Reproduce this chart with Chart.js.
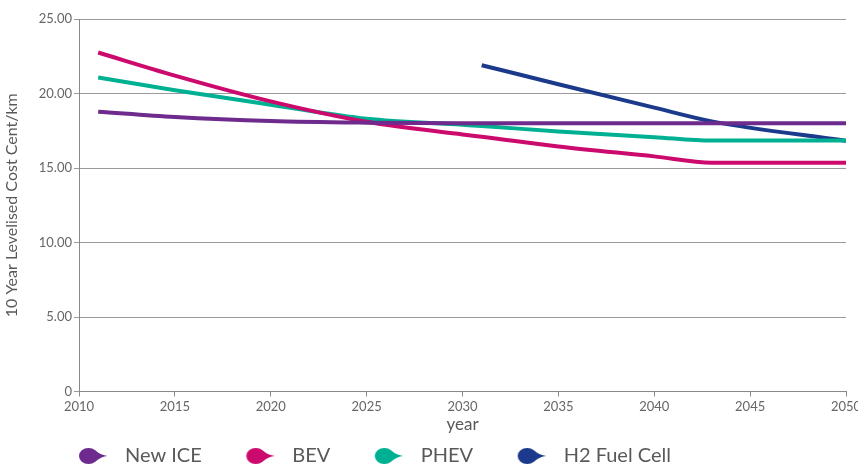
<!DOCTYPE html>
<html>
<head>
<meta charset="utf-8">
<title>10 Year Levelised Cost</title>
<script src="https://cdn.jsdelivr.net/npm/chart.js@4.4.0/dist/chart.umd.min.js"></script>
<style>
    html, body { margin: 0; padding: 0; background: #fff; overflow: hidden; }
    #wrap { position: relative; width: 858px; height: 476px; }
</style>
</head>
<body>
<div id="wrap"><canvas id="costChart"></canvas></div>
<script>
// values
const years = [2011, 2015, 2020, 2025, 2030, 2031, 2035, 2040, 2043, 2050];

const newIce = [18.78, 18.42, 18.15, 18.04, 18.00, 18.00, 18.00, 18.00, 18.00, 18.00];
const bev    = [22.75, 21.20, 19.47, 18.10, 17.25, 17.10, 16.45, 15.78, 15.36, 15.36];
const phev   = [21.08, 20.22, 19.25, 18.30, 17.90, 17.82, 17.45, 17.07, 16.84, 16.84];
const h2     = [null, null, null, null, null, 21.90, 20.62, 19.05, 18.13, 16.82];

const seriesNames  = ['New ICE', 'BEV', 'PHEV', 'H2 Fuel Cell'];
const seriesValues = [newIce, bev, phev, h2];
const seriesColors = ['#6e2a8c', '#cc0a6e', '#00b092', '#1c3a8c'];

const axisTitleY = '10 Year Levelised Cost Cent/km';
const axisTitleX = 'year';

Chart.defaults.font.family = 'Lato, "Open Sans", sans-serif';
Chart.defaults.color = '#666';

// teardrop legend marker, blank space on the left gives the gap between items
function makeMarker(color) {
    const c = document.createElement('canvas');
    c.width = 71;
    c.height = 20;
    const g = c.getContext('2d');
    g.fillStyle = color;
    g.beginPath();
    g.moveTo(63.5, 10);
    g.quadraticCurveTo(57, 10.5, 51, 16);
    g.ellipse(44.5, 10, 9.5, 8, 0, 0.25 * Math.PI, 1.75 * Math.PI);
    g.quadraticCurveTo(57, 9.5, 63.5, 10);
    g.closePath();
    g.fill();
    return c;
}

// moves the legend row so that it starts under the plot like in the picture
const legendShift = {
    id: 'legendShift',
    afterLayout(chart) {
        if (chart.legend) chart.legend.left = 34.5;
    }
};

const datasets = seriesNames.map((name, i) => ({
    label: name,
    data: seriesValues[i],
    borderColor: seriesColors[i],
    backgroundColor: seriesColors[i],
    borderWidth: 4,
    pointRadius: 0,
    pointHoverRadius: 0,
    pointStyle: makeMarker(seriesColors[i]),
    cubicInterpolationMode: 'monotone',
    fill: false,
    spanGaps: false
}));

new Chart(document.getElementById('costChart'), {
    type: 'line',
    data: { labels: years, datasets: datasets },
    plugins: [legendShift],
    options: {
        responsive: true,
        maintainAspectRatio: false,
        animation: false,
        layout: { padding: { top: 19, right: 12, bottom: 0, left: 0 } },
        plugins: {
            tooltip: { enabled: false },
            legend: {
                position: 'bottom',
                align: 'start',
                labels: {
                    usePointStyle: true,
                    pointStyleWidth: 71,
                    padding: 9.5,
                    color: '#595959',
                    font: { size: 20 }
                }
            }
        },
        scales: {
            x: {
                type: 'linear',
                min: 2010,
                max: 2050,
                afterFit(scale) {
                    scale.height = 45;
                    scale.paddingRight = 0;
                },
                ticks: {
                    stepSize: 5,
                    padding: 3,
                    maxRotation: 0,
                    color: '#666',
                    font: { size: 13 },
                    callback: v => String(v)
                },
                grid: { drawOnChartArea: false, drawTicks: true, tickLength: 5, color: '#8a8a8a' },
                border: { color: '#8a8a8a' },
                title: {
                    display: true,
                    text: axisTitleX,
                    color: '#595959',
                    font: { size: 17 },
                    padding: { top: 0, bottom: 2 }
                }
            },
            y: {
                min: 0,
                max: 25,
                afterFit(scale) {
                    scale.width = 79;
                },
                ticks: {
                    stepSize: 5,
                    padding: 2,
                    color: '#666',
                    font: { size: 13 },
                    callback: v => v === 0 ? '0' : v.toFixed(2)
                },
                grid: { color: '#9a9a9a', tickLength: 5 },
                border: { color: '#8a8a8a' },
                title: {
                    display: true,
                    text: axisTitleY,
                    color: '#595959',
                    font: { size: 16 },
                    padding: { top: 2, bottom: 0 }
                }
            }
        }
    }
});
</script>
</body>
</html>
